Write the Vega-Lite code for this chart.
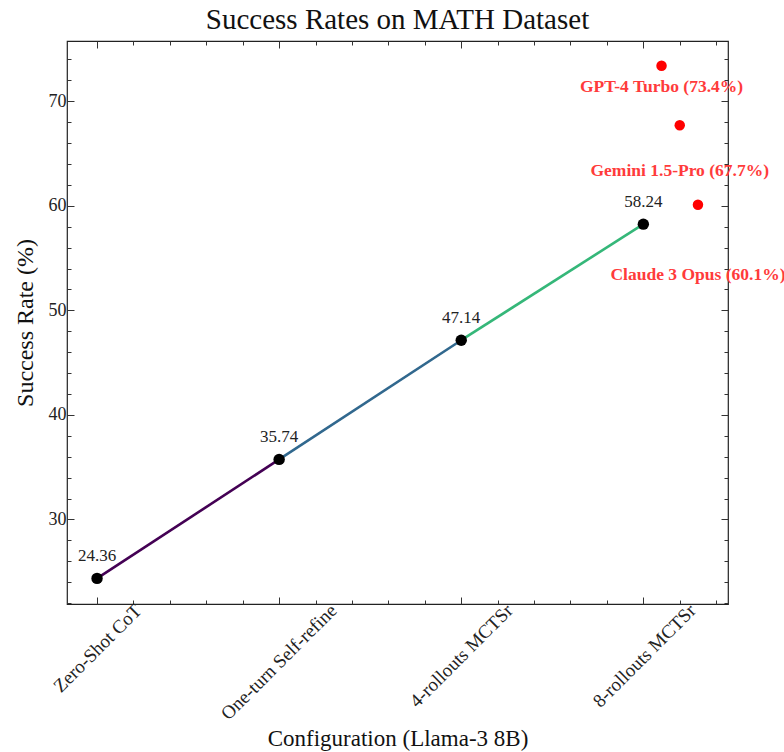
{
  "$schema": "https://vega.github.io/schema/vega-lite/v6.json",
  "width": 661,
  "height": 563,
  "autosize": "none",
  "padding": {"left": 67, "top": 41, "right": 56, "bottom": 148},
  "background": "white",
  "title": {"text": "Success Rates on MATH Dataset", "font": "Liberation Serif", "fontSize": 29, "fontWeight": "normal", "color": "#111111", "offset": 6},
  "config": {
    "view": {"stroke": "#222222", "strokeWidth": 1.2},
    "font": "Liberation Serif",
    "axis": {"labelFont": "Liberation Serif", "titleFont": "Liberation Serif", "labelColor": "#222222", "titleColor": "#111111", "titleFontWeight": "normal", "domain": false, "grid": false, "tickColor": "#333333", "tickWidth": 1}
  },
  "datasets": {
    "segments": [
      {"seg": "a", "from": 0, "to": 1, "start": 24.36, "end": 35.74},
      {"seg": "b", "from": 1, "to": 2, "start": 35.74, "end": 47.14},
      {"seg": "c", "from": 2, "to": 3, "start": 47.14, "end": 58.24}
    ],
    "points": [
      {"pos": 0, "configuration": "Zero-Shot CoT", "rate": 24.36},
      {"pos": 1, "configuration": "One-turn Self-refine", "rate": 35.74},
      {"pos": 2, "configuration": "4-rollouts MCTSr", "rate": 47.14},
      {"pos": 3, "configuration": "8-rollouts MCTSr", "rate": 58.24}
    ],
    "models": [
      {"model": "GPT-4 Turbo", "pos": 3.1, "rate": 73.4, "label": "GPT-4 Turbo (73.4%)"},
      {"model": "Gemini 1.5-Pro", "pos": 3.2, "rate": 67.7, "label": "Gemini 1.5-Pro (67.7%)"},
      {"model": "Claude 3 Opus", "pos": 3.3, "rate": 60.1, "label": "Claude 3 Opus (60.1%)"}
    ]
  },
  "resolve": {"axis": {"x": "independent", "y": "independent"}},
  "layer": [
    {
      "data": {"name": "segments"},
      "mark": {"type": "rule", "strokeWidth": 2.6},
      "encoding": {
        "x": {
          "field": "from", "type": "quantitative",
          "scale": {"domain": [-0.165, 3.465], "nice": false, "zero": false},
          "axis": {
            "orient": "bottom",
            "title": "Configuration (Llama-3 8B)",
            "titleFont": "Liberation Serif",
            "titleFontSize": 23,
            "titlePadding": 4,
            "values": [0, 0.2, 0.4, 0.6, 0.8, 1, 1.2, 1.4, 1.6, 1.8, 2, 2.2, 2.4, 2.6, 2.8, 3, 3.2, 3.4],
            "labelExpr": "datum.value === 0 ? 'Zero-Shot CoT' : datum.value === 1 ? 'One-turn Self-refine' : datum.value === 2 ? '4-rollouts MCTSr' : datum.value === 3 ? '8-rollouts MCTSr' : ''",
            "labelFont": "Liberation Serif",
            "labelAngle": -45,
            "labelAlign": "right",
            "labelBaseline": "middle",
            "labelFontSize": 19,
            "labelOverlap": false,
            "labelFlush": false,
            "labelBound": false,
            "labelPadding": 10,
            "labelOffset": {"condition": [
              {"test": "datum.value === 0", "value": 41},
              {"test": "datum.value === 1", "value": 54},
              {"test": "datum.value === 2", "value": 48}
            ], "value": 49},
            "tickSize": {"condition": {"test": "abs(datum.value - round(datum.value)) < 0.001", "value": -7}, "value": -4}
          }
        },
        "x2": {"field": "to"},
        "y": {
          "field": "start", "type": "quantitative",
          "scale": {"domain": [21.91, 75.76], "nice": false, "zero": false},
          "axis": {
            "orient": "left",
            "title": "Success Rate (%)",
            "titleFont": "Liberation Serif",
            "titleFontSize": 24,
            "titlePadding": 11,
            "values": [22, 24, 26, 28, 30, 32, 34, 36, 38, 40, 42, 44, 46, 48, 50, 52, 54, 56, 58, 60, 62, 64, 66, 68, 70, 72, 74],
            "labelExpr": "datum.value % 10 === 0 ? datum.value : ''",
            "labelFont": "Liberation Serif",
            "labelFontSize": 18,
            "labelPadding": 8,
            "labelOverlap": false,
            "labelFlush": false,
            "tickSize": {"condition": {"test": "datum.value % 10 === 0", "value": -7}, "value": -4}
          }
        },
        "y2": {"field": "end"},
        "color": {
          "field": "seg", "type": "nominal",
          "scale": {"domain": ["a", "b", "c"], "range": ["#440154", "#31688e", "#35b779"]},
          "legend": null
        }
      }
    },
    {
      "data": {"name": "points"},
      "mark": {"type": "point", "filled": true, "size": 130, "color": "black", "opacity": 1},
      "encoding": {
        "x": {
          "field": "pos", "type": "quantitative",
          "axis": {
            "orient": "top", "title": null, "labels": false,
            "values": [0, 0.2, 0.4, 0.6, 0.8, 1, 1.2, 1.4, 1.6, 1.8, 2, 2.2, 2.4, 2.6, 2.8, 3, 3.2, 3.4],
            "tickSize": {"condition": {"test": "abs(datum.value - round(datum.value)) < 0.001", "value": -7}, "value": -4}
          }
        },
        "y": {
          "field": "rate", "type": "quantitative",
          "axis": {
            "orient": "right", "title": null, "labels": false,
            "values": [22, 24, 26, 28, 30, 32, 34, 36, 38, 40, 42, 44, 46, 48, 50, 52, 54, 56, 58, 60, 62, 64, 66, 68, 70, 72, 74],
            "tickSize": {"condition": {"test": "datum.value % 10 === 0", "value": -7}, "value": -4}
          }
        }
      }
    },
    {
      "data": {"name": "points"},
      "mark": {"type": "text", "dy": -22, "fontSize": 17, "font": "Liberation Serif", "color": "#222222", "align": "center", "baseline": "middle"},
      "encoding": {
        "x": {"field": "pos", "type": "quantitative", "axis": null},
        "y": {"field": "rate", "type": "quantitative", "axis": null},
        "text": {"field": "rate", "type": "quantitative", "format": ".2f"}
      }
    },
    {
      "data": {"name": "models"},
      "mark": {"type": "point", "filled": true, "size": 110, "color": "#ff0000", "opacity": 1},
      "encoding": {
        "x": {"field": "pos", "type": "quantitative", "axis": null},
        "y": {"field": "rate", "type": "quantitative", "axis": null}
      }
    },
    {
      "data": {"name": "models"},
      "transform": [{"filter": "datum.model === 'GPT-4 Turbo'"}],
      "mark": {"type": "text", "dy": 21, "fontSize": 17.5, "fontWeight": "bold", "font": "Liberation Serif", "color": "#ff3b3b", "align": "center", "baseline": "middle"},
      "encoding": {
        "x": {"field": "pos", "type": "quantitative", "axis": null},
        "y": {"field": "rate", "type": "quantitative", "axis": null},
        "text": {"field": "label", "type": "nominal"}
      }
    },
    {
      "data": {"name": "models"},
      "transform": [{"filter": "datum.model === 'Gemini 1.5-Pro'"}],
      "mark": {"type": "text", "dy": 46, "fontSize": 17.5, "fontWeight": "bold", "font": "Liberation Serif", "color": "#ff3b3b", "align": "center", "baseline": "middle"},
      "encoding": {
        "x": {"field": "pos", "type": "quantitative", "axis": null},
        "y": {"field": "rate", "type": "quantitative", "axis": null},
        "text": {"field": "label", "type": "nominal"}
      }
    },
    {
      "data": {"name": "models"},
      "transform": [{"filter": "datum.model === 'Claude 3 Opus'"}],
      "mark": {"type": "text", "dy": 70, "fontSize": 17.5, "fontWeight": "bold", "font": "Liberation Serif", "color": "#ff3b3b", "align": "center", "baseline": "middle"},
      "encoding": {
        "x": {"field": "pos", "type": "quantitative", "axis": null},
        "y": {"field": "rate", "type": "quantitative", "axis": null},
        "text": {"field": "label", "type": "nominal"}
      }
    }
  ]
}
